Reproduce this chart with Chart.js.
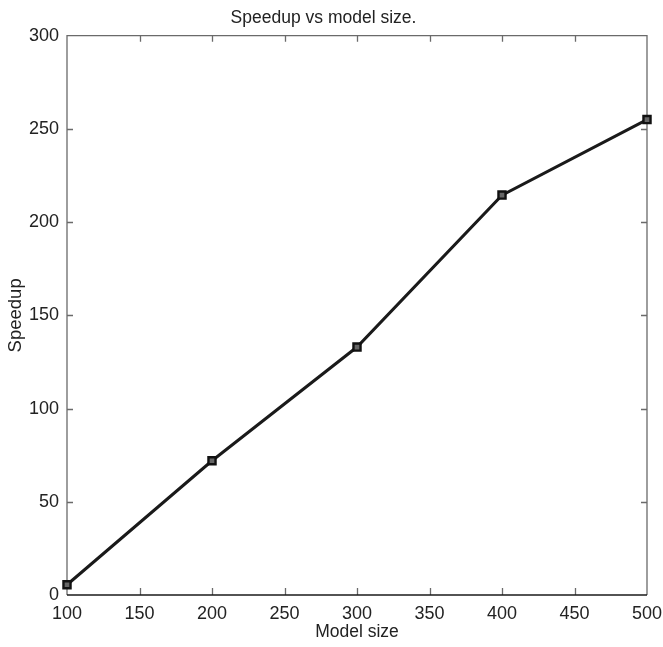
<!DOCTYPE html>
<html>
<head>
<meta charset="utf-8">
<script src="https://cdn.jsdelivr.net/npm/chart.js@4"></script>
<style>
  html, body { margin: 0; padding: 0; background: #fff; }
  #wrap { width: 663px; height: 647px; }
</style>
</head>
<body>
<div id="wrap"><canvas id="myChart" width="663" height="647"></canvas></div>
<script>
// values
const modelSizes = [100, 200, 300, 400, 500];
const speedups = [5.5, 72, 133, 214.5, 255];
const xTickRange = { min: 100, max: 500, step: 50 };
const yTickRange = { min: 0, max: 300, step: 50 };

const FONT = "'Liberation Sans', Arial, Helvetica, sans-serif";

// box round the plot with inward tick marks, like the original figure
const framePlugin = {
  id: "frame",
  beforeDatasetsDraw(chart) {
    const { ctx, chartArea: a, scales } = chart;
    const x = scales.x;
    const y = scales.y;
    ctx.save();
    ctx.lineWidth = 1.3;
    ctx.strokeStyle = "#6a6a6a";
    ctx.beginPath();
    ctx.moveTo(a.left, a.bottom);
    ctx.lineTo(a.left, a.top);
    ctx.lineTo(a.right, a.top);
    ctx.lineTo(a.right, a.bottom);
    ctx.stroke();

    // x ticks top and bottom
    x.ticks.forEach((t) => {
      if (t.value === x.min || t.value === x.max) return;
      const px = Math.round(x.getPixelForValue(t.value)) + 0.5;
      ctx.beginPath();
      ctx.moveTo(px, a.bottom);
      ctx.lineTo(px, a.bottom - 7);
      ctx.moveTo(px, a.top);
      ctx.lineTo(px, a.top + 6);
      ctx.stroke();
    });
    // y ticks left and right
    y.ticks.forEach((t) => {
      if (t.value === y.min || t.value === y.max) return;
      const py = Math.round(y.getPixelForValue(t.value)) + 0.5;
      ctx.beginPath();
      ctx.moveTo(a.left, py);
      ctx.lineTo(a.left + 6, py);
      ctx.moveTo(a.right, py);
      ctx.lineTo(a.right - 6, py);
      ctx.stroke();
    });

    ctx.strokeStyle = "#1a1a1a";
    ctx.lineWidth = 1.6;
    ctx.beginPath();
    ctx.moveTo(a.left, a.bottom);
    ctx.lineTo(a.right, a.bottom);
    ctx.stroke();
    ctx.restore();
  },
};

const ctx = document.getElementById("myChart").getContext("2d");

window.myChart = new Chart(ctx, {
  type: "line",
  data: {
    datasets: [
      {
        label: "Speedup",
        data: modelSizes.map((m, i) => ({ x: m, y: speedups[i] })),
        borderColor: "#1a1a1a",
        borderWidth: 3,
        pointStyle: "rect",
        pointRadius: 5,
        pointBorderWidth: 2.4,
        pointBorderColor: "#111",
        pointBackgroundColor: "#666",
        tension: 0,
        clip: false,
      },
    ],
  },
  options: {
    responsive: false,
    animation: false,
    layout: { padding: { top: 0, right: 16, bottom: 0, left: 0 } },
    plugins: {
      legend: { display: false },
      tooltip: { enabled: false },
      title: {
        display: true,
        text: "Speedup vs model size.",
        color: "#222",
        font: { family: FONT, size: 17.5, weight: "normal" },
        padding: { top: 8, bottom: 6.7 },
      },
    },
    scales: {
      x: {
        type: "linear",
        min: xTickRange.min,
        max: xTickRange.max,
        ticks: {
          stepSize: xTickRange.step,
          color: "#222",
          padding: 8,
          maxRotation: 0,
          font: { family: FONT, size: 18 },
        },
        grid: { display: false, drawTicks: false },
        border: { display: false },
        title: {
          display: true,
          text: "Model size",
          color: "#222",
          font: { family: FONT, size: 17.5 },
          padding: { top: 0, bottom: 4 },
        },
        afterFit(scale) {
          scale.height = 52;
          scale.paddingLeft = 0;
          scale.paddingRight = 0;
        },
      },
      y: {
        min: yTickRange.min,
        max: yTickRange.max,
        ticks: {
          stepSize: yTickRange.step,
          color: "#222",
          padding: 8,
          font: { family: FONT, size: 18 },
        },
        grid: { display: false, drawTicks: false },
        border: { display: false },
        title: {
          display: true,
          text: "Speedup",
          color: "#222",
          font: { family: FONT, size: 18.5 },
          padding: { top: 5, bottom: 0 },
        },
        afterFit(scale) {
          scale.width = 67;
          scale.paddingTop = 0;
          scale.paddingBottom = 0;
        },
      },
    },
  },
  plugins: [framePlugin],
});
</script>
</body>
</html>
